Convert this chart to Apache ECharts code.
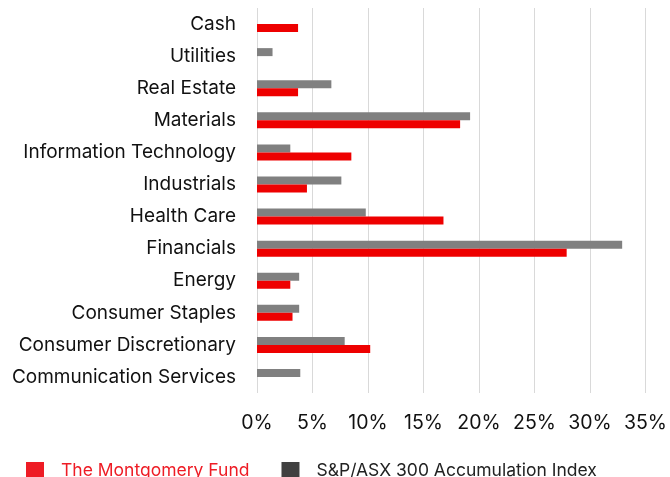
<!DOCTYPE html>
<html><head><meta charset="utf-8">
<script src="https://cdn.jsdelivr.net/npm/echarts@6/dist/echarts.min.js"></script>
<style>html,body{margin:0;padding:0;background:#fff}#c{width:670px;height:477px}</style>
</head><body><div id="c"></div>
<script>
// bottom-to-top order
const categories = ["Communication Services","Consumer Discretionary","Consumer Staples","Energy","Financials","Health Care","Industrials","Information Technology","Materials","Real Estate","Utilities","Cash"];
const fundValues = [0, 10.2, 3.2, 3.0, 27.9, 16.8, 4.5, 8.5, 18.3, 3.7, 0, 3.7];
const indexValues = [3.9, 7.9, 3.8, 3.8, 32.9, 9.8, 7.6, 3.0, 19.2, 6.7, 1.4, 0];
const seriesNames = ["The Montgomery Fund","S&P/ASX 300 Accumulation Index"];
const xTicks = {min:0, max:35, interval:5};

const chart = echarts.init(document.getElementById('c'));
const font = 'Inter, "Noto Sans", sans-serif';
chart.setOption({
  animation:false,
  textStyle:{fontFamily:font},
  grid:{left:257, right:22, top:8, bottom:84, containLabel:false},
  legend:{
    left:21, top:457, icon:'rect', itemWidth:18, itemHeight:18, itemGap:32,
    textStyle:{fontFamily:font, fontSize:17.5, padding:[0,0,10,12]},
    data:[
      {name:seriesNames[0], itemStyle:{color:'#ee1c25'}, textStyle:{color:'#ee1c25'}},
      {name:seriesNames[1], itemStyle:{color:'#404040'}, textStyle:{color:'#222'}}
    ]
  },
  xAxis:{
    type:'value', min:xTicks.min, max:xTicks.max, interval:xTicks.interval,
    axisLabel:{formatter:'{value}%', fontSize:19.5, color:'#111', margin:20, fontFamily:font},
    axisLine:{show:false}, axisTick:{show:false},
    splitLine:{show:true, lineStyle:{color:'#d9d9d9', width:1}}
  },
  yAxis:{
    type:'category', data:categories,
    axisLabel:{fontSize:19, color:'#111', margin:21, fontFamily:font},
    axisLine:{show:false}, axisTick:{show:false}
  },
  series:[
    {name:seriesNames[1], type:'bar', data:indexValues, barWidth:8, barGap:'0%',
     itemStyle:{color:'#808080'}},
    {name:seriesNames[0], type:'bar', data:fundValues, barWidth:8, barGap:'0%',
     itemStyle:{color:'#ee0000'}}
  ]
});
</script></body></html>
